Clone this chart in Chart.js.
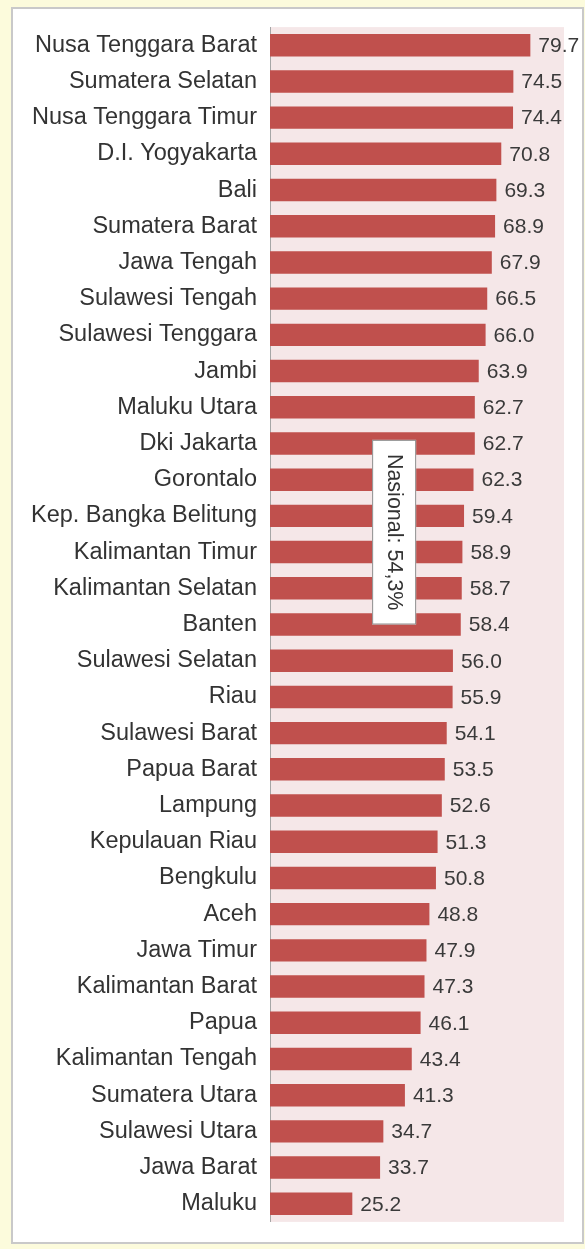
<!DOCTYPE html>
<html lang="en">
<head>
    <meta charset="UTF-8">
    <title>Provinsi</title>
    <script src="https://cdn.jsdelivr.net/npm/chart.js"></script>
    <style>
        html, body { margin: 0; padding: 0; background: #fcfbdc; }
        .wrap { position: relative; width: 585px; height: 1249px; }
    </style>
</head>
<body>
<div class="wrap"><canvas id="chart" width="585" height="1249"></canvas></div>

<script>
    const provinces = [
        'Nusa Tenggara Barat', 'Sumatera Selatan', 'Nusa Tenggara Timur', 'D.I. Yogyakarta', 'Bali',
        'Sumatera Barat', 'Jawa Tengah', 'Sulawesi Tengah', 'Sulawesi Tenggara', 'Jambi',
        'Maluku Utara', 'Dki Jakarta', 'Gorontalo', 'Kep. Bangka Belitung', 'Kalimantan Timur',
        'Kalimantan Selatan', 'Banten', 'Sulawesi Selatan', 'Riau', 'Sulawesi Barat',
        'Papua Barat', 'Lampung', 'Kepulauan Riau', 'Bengkulu', 'Aceh',
        'Jawa Timur', 'Kalimantan Barat', 'Papua', 'Kalimantan Tengah', 'Sumatera Utara',
        'Sulawesi Utara', 'Jawa Barat', 'Maluku'
    ];
    const values = [
        79.7, 74.5, 74.4, 70.8, 69.3,
        68.9, 67.9, 66.5, 66.0, 63.9,
        62.7, 62.7, 62.3, 59.4, 58.9,
        58.7, 58.4, 56.0, 55.9, 54.1,
        53.5, 52.6, 51.3, 50.8, 48.8,
        47.9, 47.3, 46.1, 43.4, 41.3,
        34.7, 33.7, 25.2
    ];
    const nationalText = 'Nasional: 54,3%';
    const nationalBoxX = 38;           // data position of box centre
    const nationalFrom = 'Dki Jakarta';
    const nationalTo = 'Banten';

    // frame + pink plot area
    const backdrop = {
        id: 'backdrop',
        beforeDraw(chart) {
            const { ctx, chartArea: a } = chart;
            ctx.save();
            ctx.fillStyle = '#fcfbdc';
            ctx.fillRect(0, 0, chart.width, chart.height);
            ctx.fillStyle = '#ffffff';
            ctx.fillRect(12, 8, 571, 1235);
            ctx.strokeStyle = '#c9c9c9';
            ctx.lineWidth = 2;
            ctx.strokeRect(12, 8, 571, 1235);
            ctx.fillStyle = '#f5e7e8';
            ctx.fillRect(a.left, a.top, a.right - a.left, a.bottom - a.top);
            ctx.restore();
        }
    };

    // value labels at bar ends
    const valueLabels = {
        id: 'valueLabels',
        afterDatasetsDraw(chart) {
            const { ctx } = chart;
            const meta = chart.getDatasetMeta(0);
            ctx.save();
            ctx.font = '21px "Liberation Sans", Arial, sans-serif';
            ctx.fillStyle = '#3a3a3a';
            ctx.textBaseline = 'middle';
            ctx.textAlign = 'left';
            meta.data.forEach((bar, i) => {
                ctx.fillText(values[i].toFixed(1), bar.x + 8, bar.y + 1);
            });
            ctx.restore();
        }
    };

    // national average box
    const nationalBox = {
        id: 'nationalBox',
        afterDatasetsDraw(chart) {
            const { ctx, scales: { x, y } } = chart;
            const step = y.getPixelForValue(1) - y.getPixelForValue(0);
            const cx = x.getPixelForValue(nationalBoxX);
            const top = y.getPixelForValue(provinces.indexOf(nationalFrom)) - step * 0.1;
            const bottom = y.getPixelForValue(provinces.indexOf(nationalTo));
            const w = 44;
            ctx.save();
            ctx.fillStyle = '#ffffff';
            ctx.strokeStyle = '#8c8c8c';
            ctx.lineWidth = 1;
            ctx.fillRect(cx - w / 2, top, w, bottom - top);
            ctx.strokeRect(cx - w / 2 + 0.5, top + 0.5, w - 1, bottom - top - 1);
            ctx.translate(cx, (top + bottom) / 2);
            ctx.rotate(Math.PI / 2);
            ctx.font = '21.5px "Liberation Sans", Arial, sans-serif';
            ctx.fillStyle = '#333333';
            ctx.textAlign = 'center';
            ctx.textBaseline = 'middle';
            ctx.fillText(nationalText, 0, 0);
            ctx.restore();
        }
    };

    new Chart(document.getElementById('chart'), {
        type: 'bar',
        data: {
            labels: provinces,
            datasets: [{
                data: values,
                backgroundColor: '#c0504d',
                borderWidth: 0,
                barPercentage: 0.62,
                categoryPercentage: 1.0
            }]
        },
        options: {
            indexAxis: 'y',
            responsive: false,
            animation: false,
            layout: { padding: { left: 0, right: 21, top: 27, bottom: 26 } },
            plugins: { legend: { display: false }, tooltip: { enabled: false } },
            scales: {
                x: {
                    display: false,
                    min: 0,
                    max: 90
                },
                y: {
                    afterFit(scale) { scale.width = 270; },
                    grid: { display: false, drawTicks: false },
                    border: { display: true, color: '#a6a6a6', width: 1 },
                    ticks: {
                        padding: 13,
                        color: '#333333',
                        font: { family: '"Liberation Sans", Arial, sans-serif', size: 23.5 }
                    }
                }
            }
        },
        plugins: [backdrop, valueLabels, nationalBox]
    });
</script>
</body>
</html>
